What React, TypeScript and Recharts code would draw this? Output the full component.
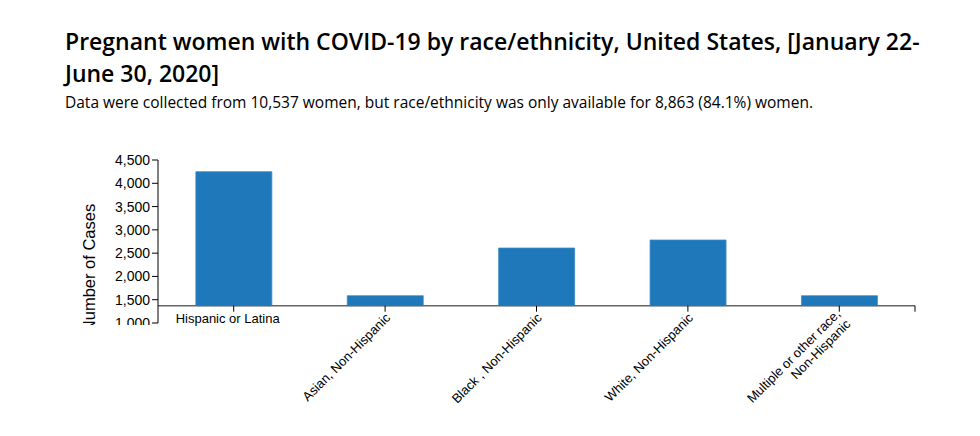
import React from 'react';
import { BarChart, Bar, XAxis, YAxis, ReferenceLine, Label } from 'recharts';

const categories = [
  'Hispanic or Latina',
  'Asian, Non-Hispanic',
  'Black , Non-Hispanic',
  'White, Non-Hispanic',
  'Multiple or other race, Non-Hispanic',
];
const cases = [4249, 1586, 2610, 2782, 1586];
const axisBase = 1371;
const yTicks = [1000, 1500, 2000, 2500, 3000, 3500, 4000, 4500];

const data = categories.map((name, i) => ({ name, range: [axisBase, cases[i]] }));

const FONT = '"Liberation Sans", Arial, Helvetica, sans-serif';
// distance (px) from the plot bottom up to the drawn x-axis line
const AXIS_LIFT = 17.3;

function XTick(props: any) {
  const { x, y, payload, index } = props;
  const ay = y - AXIS_LIFT;
  const label: string = payload.value;
  let text;
  if (index === 0) {
    text = (
      <text x={x - 6} y={ay + 17} textAnchor="middle" fontSize={13} fontFamily={FONT} fill="#000">
        {label}
      </text>
    );
  } else if (label.startsWith('Multiple')) {
    text = (
      <g transform={`translate(${x + 2},${ay + 9}) rotate(-45)`}>
        <text x={0} y={0} textAnchor="end" fontSize={13} fontFamily={FONT} fill="#000">
          <tspan x={0} dy={0}>Multiple or other race,</tspan>
          <tspan x={0} dy="1.1em">Non-Hispanic</tspan>
        </text>
      </g>
    );
  } else {
    text = (
      <g transform={`translate(${x + 6},${ay + 13}) rotate(-45)`}>
        <text x={0} y={0} textAnchor="end" fontSize={13} fontFamily={FONT} fill="#000">
          {label}
        </text>
      </g>
    );
  }
  return (
    <g>
      <line x1={x} x2={x} y1={ay} y2={ay + 6} stroke="#000" strokeWidth={1} />
      {text}
    </g>
  );
}

function YTick(props: any) {
  const { x, y, payload } = props;
  return (
    <g>
      <line x1={x - 6} x2={x} y1={y} y2={y} stroke="#000" />
      <g clipPath="url(#yclip)">
        <text x={x - 8} y={y} dy={5} textAnchor="end" fontSize={14} fontFamily={FONT} fill="#000">
          {Number(payload.value).toLocaleString('en-US')}
        </text>
      </g>
    </g>
  );
}

function YLabel() {
  return (
    <g>
      <defs>
        <clipPath id="yclip">
          <rect x={0} y={0} width={156} height={325} />
        </clipPath>
      </defs>
      <g clipPath="url(#yclip)">
        <text
          transform="translate(95,268) rotate(-90)"
          textAnchor="middle"
          fontSize={16.5}
          fontFamily={FONT}
          fill="#000"
        >
          Number of Cases
        </text>
      </g>
    </g>
  );
}

function AxisLineShape(props: any) {
  const { x1, y1, x2 } = props;
  return (
    <g>
      <path d={`M${x1},${y1} H${x2}`} stroke="#666" strokeWidth={1.5} fill="none" />
      <path d={`M${x2},${y1} V${y1 + 6}`} stroke="#000" strokeWidth={1} fill="none" />
    </g>
  );
}

export default function App() {
  return (
    <div style={{ position: 'fixed', left: 0, top: 0, width: 980, height: 436, background: '#fff' }}>
      <BarChart
        width={980}
        height={436}
        data={data}
        margin={{ top: 160, right: 65, bottom: 13, left: 98 }}
        barCategoryGap="25%"
      >
        <XAxis
          dataKey="name"
          height={100}
          axisLine={false}
          tickLine={false}
          tickSize={0}
          tickMargin={0}
          interval={0}
          tick={<XTick />}
        />
        <YAxis
          width={60}
          domain={[1000, 4500]}
          ticks={yTicks}
          allowDataOverflow
          tickLine={false}
          tickSize={0}
          tickMargin={0}
          axisLine={{ stroke: '#000' }}
          tick={<YTick />}
        >
          <Label content={<YLabel />} />
        </YAxis>
        <Bar dataKey="range" fill="#1f78b9" stroke="#3d8ccb" strokeWidth={0.8} isAnimationActive={false} />
        <ReferenceLine y={axisBase} shape={<AxisLineShape />} ifOverflow="visible" />
      </BarChart>
      <div
        style={{
          position: 'absolute',
          left: 65,
          top: 25,
          fontFamily: '"Open Sans", sans-serif',
          fontWeight: 600,
          fontSize: 23,
          lineHeight: '32px',
          color: '#000',
          whiteSpace: 'nowrap',
        }}
      >
        Pregnant women with COVID-19 by race/ethnicity, United States, [January 22-
        <br />
        June 30, 2020]
      </div>
      <div
        style={{
          position: 'absolute',
          left: 65,
          top: 92,
          fontFamily: '"Open Sans", sans-serif',
          fontSize: 15.5,
          lineHeight: '21px',
          color: '#000',
          whiteSpace: 'nowrap',
        }}
      >
        Data were collected from 10,537 women, but race/ethnicity was only available for 8,863 (84.1%) women.
      </div>
    </div>
  );
}
